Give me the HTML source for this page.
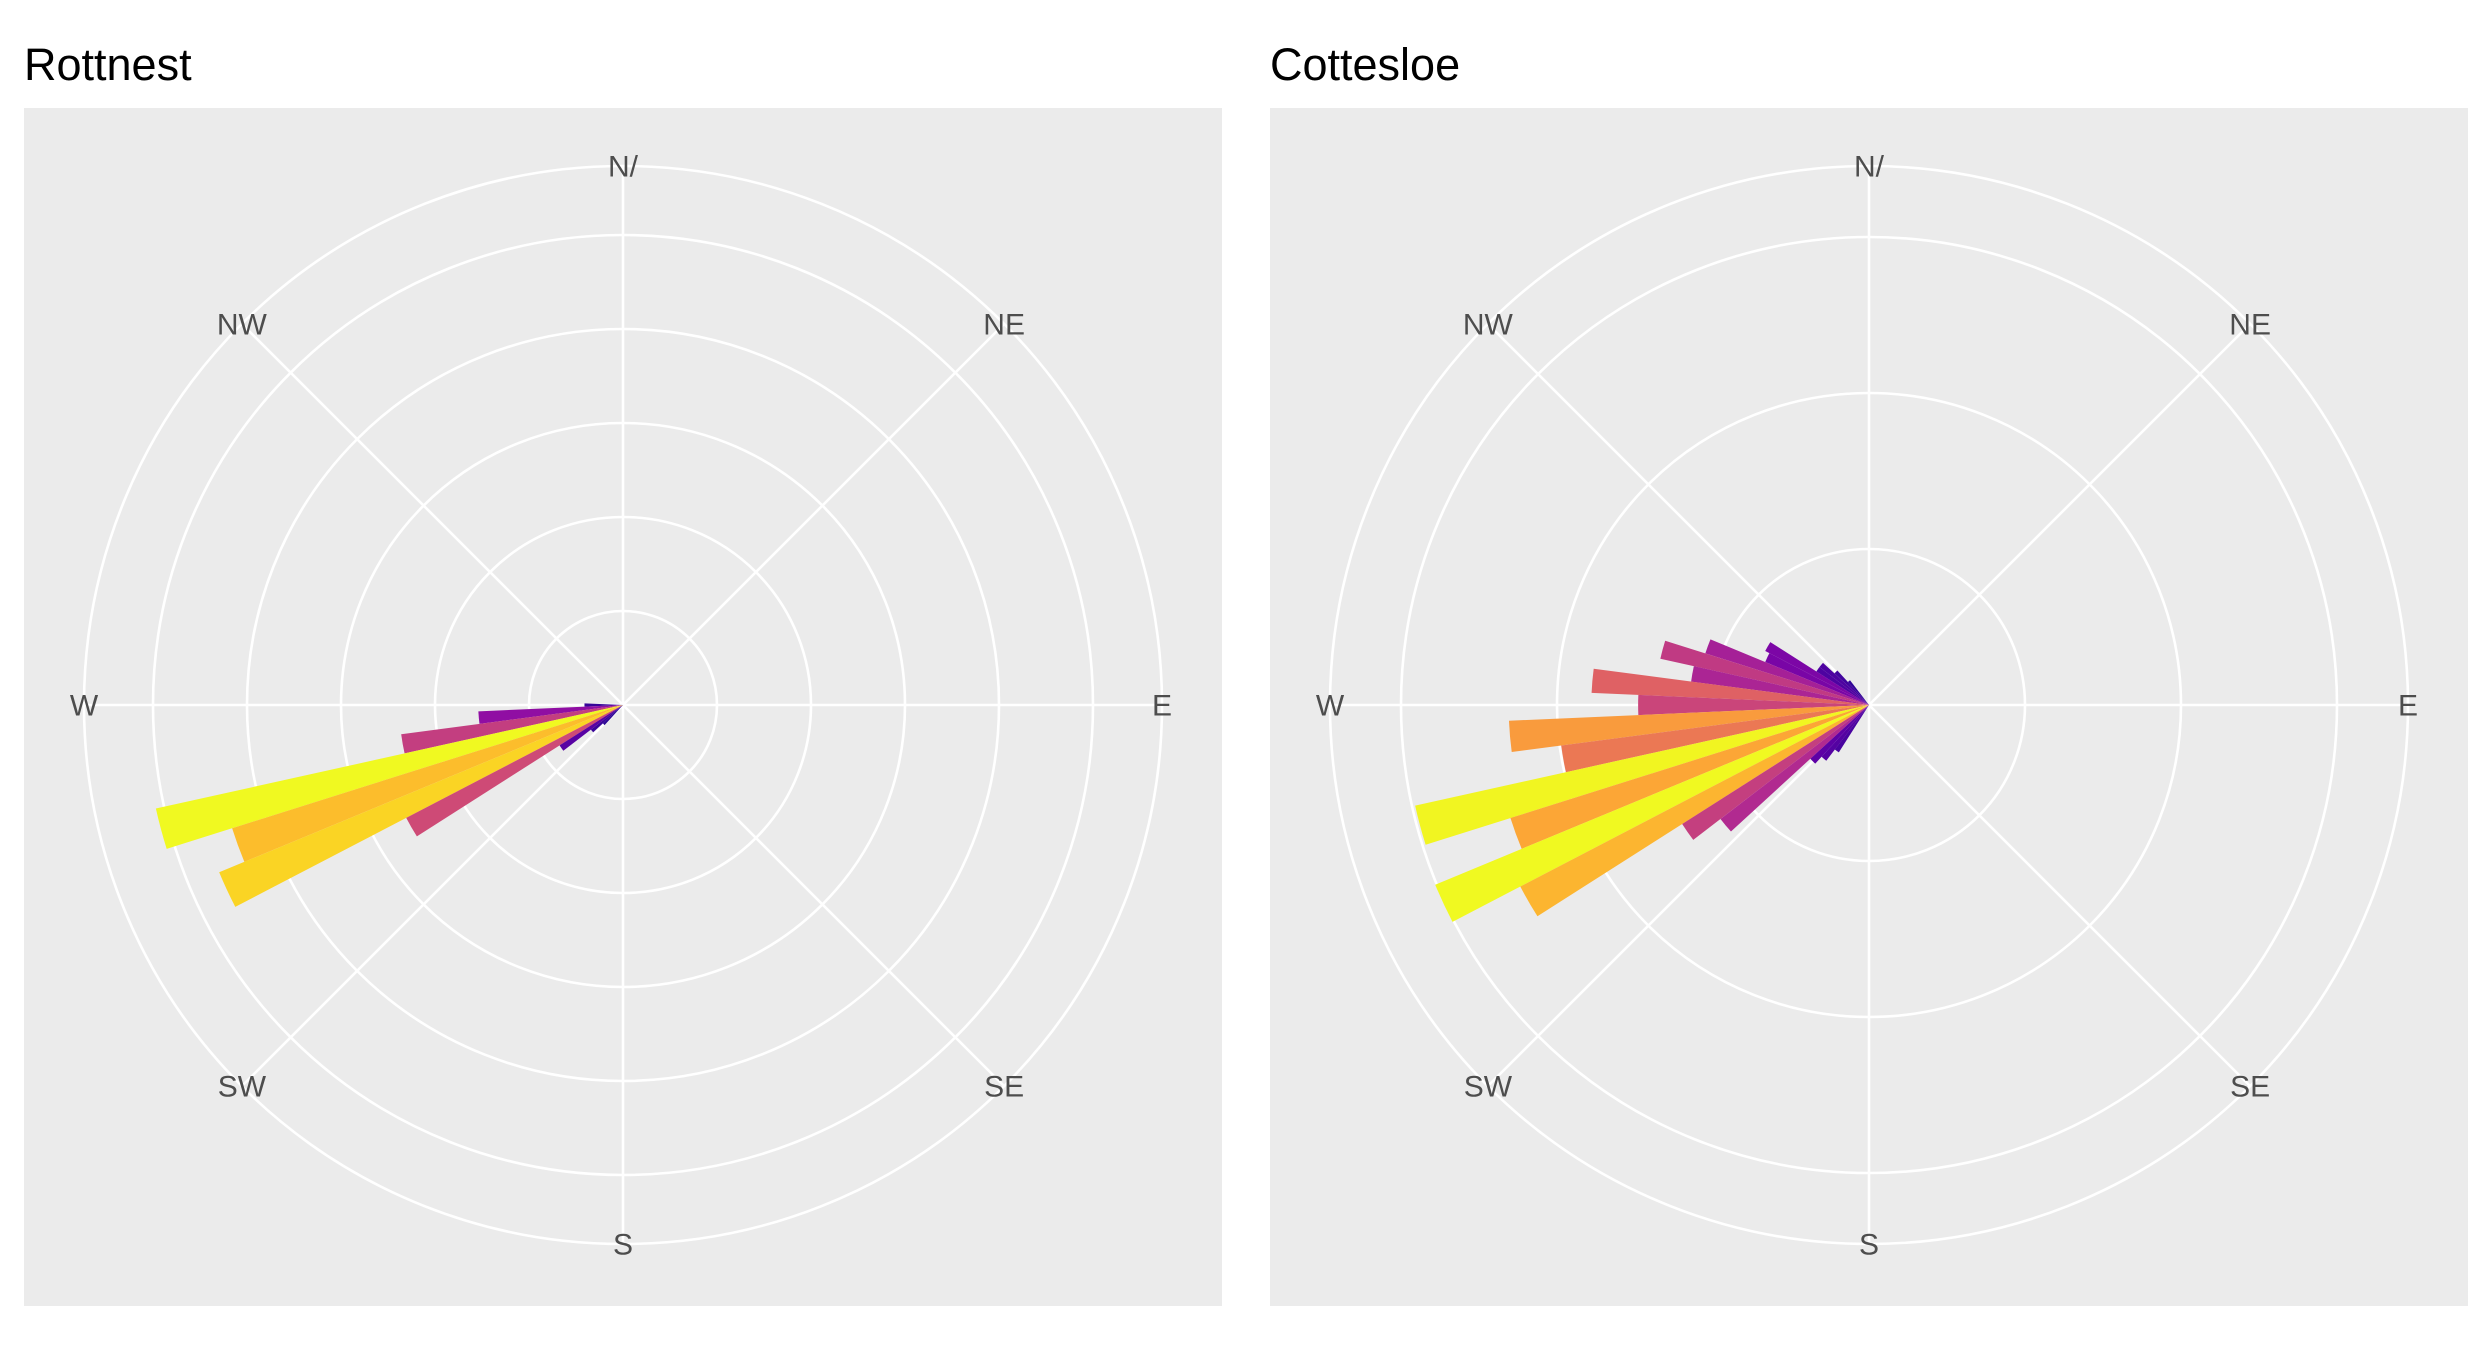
<!DOCTYPE html>
<html><head><meta charset="utf-8"><style>
html,body{margin:0;padding:0;background:#fff;}
svg{display:block;}
text{font-family:"Liberation Sans",Arial,sans-serif;}
</style></head><body>
<svg id="chart" width="2486" height="1352" viewBox="0 0 2486 1352"></svg>
<script>
// Rottnest data: direction bins (compass degrees) and frequency values
const rottDirs = [270, 265, 260, 255, 250, 245, 240, 235, 230, 225];
const rottVals = [0.41, 1.54, 2.38, 5.09, 4.36, 4.65, 2.6, 0.8, 0.43, 0.29];
const rottRings = [1, 2, 3, 4, 5];
// Cottesloe data
const cottDirs = [320, 315, 310, 305, 300, 295, 290, 285, 280, 275, 270, 265, 260, 255, 250, 245, 240, 235, 230, 225, 220, 215];
const cottVals = [0.2, 0.3, 0.4, 0.4, 0.75, 0.72, 1.1, 1.37, 1.15, 1.78, 1.48, 2.31, 1.99, 2.98, 2.41, 3.01, 2.52, 1.42, 1.2, 0.51, 0.45, 0.36];
const cottRings = [1, 2, 3];
const compassLabels = ["N/", "NE", "E", "SE", "S", "SW", "W", "NW"];
const compassAngles = [0, 45, 90, 135, 180, 225, 270, 315];

const NS = "http://www.w3.org/2000/svg";
const svg = document.getElementById("chart");
const plasmaStops = ["#0d0887","#41049d","#6a00a8","#8f0da4","#b12a90","#cc4778","#e16462","#f2844b","#fca636","#fcce25","#f0f921"];
function hex(c){return [parseInt(c.slice(1,3),16),parseInt(c.slice(3,5),16),parseInt(c.slice(5,7),16)];}
function plasma(t){
  t=Math.max(0,Math.min(1,t));
  const p=t*10, i=Math.min(9,Math.floor(p)), f=p-i;
  const a=hex(plasmaStops[i]), b=hex(plasmaStops[i+1]);
  return "rgb("+a.map((v,k)=>Math.round(v+(b[k]-v)*f)).join(",")+")";
}
function mk(tag, attrs, parent){
  const el=document.createElementNS(NS,tag);
  for(const k in attrs) el.setAttribute(k,attrs[k]);
  (parent||svg).appendChild(el);
  return el;
}
function pt(cx,cy,r,deg){const a=deg*Math.PI/180;return [cx+r*Math.sin(a), cy-r*Math.cos(a)];}

function panel(name, title, px, cx, cy, unit, dirs, vals, rings){
  const g=mk("g",{});
  
  
  const t=mk("text",{x:px,y:80,"font-size":45,fill:"#000"},g);
  t.textContent=title;
  
  
  const bg=mk("rect",{x:px,y:108,width:1198,height:1198,fill:"#ebebeb"},g);
  
  
  const outer=539;
  rings.forEach(v=>{
    const c=mk("circle",{cx:cx,cy:cy,r:v*unit,fill:"none",stroke:"#fff","stroke-width":2.6},g);
    
    
  });
  const oc=mk("circle",{cx:cx,cy:cy,r:outer,fill:"none",stroke:"#fff","stroke-width":2.6},g);
  
  
  compassAngles.forEach(a=>{
    const [x,y]=pt(cx,cy,outer,a);
    const l=mk("line",{x1:cx,y1:cy,x2:x,y2:y,stroke:"#fff","stroke-width":2.6},g);
    
    
  });
  const vmax=Math.max(...vals);
  dirs.forEach((d,i)=>{
    const r=vals[i]*unit;
    const [x1,y1]=pt(cx,cy,r,d-2.5), [x2,y2]=pt(cx,cy,r,d+2.5);
    const p=mk("path",{d:`M${cx},${cy}L${x1},${y1}A${r},${r} 0 0 1 ${x2},${y2}Z`,fill:plasma(vals[i]/vmax)},g);
    
    
  });
  compassAngles.forEach((a,i)=>{
    const [x,y]=pt(cx,cy,outer,a);
    const lt=mk("text",{x:x,y:y+1,"font-size":30,fill:"#4d4d4d","text-anchor":"middle","dominant-baseline":"central"},g);
    lt.textContent=compassLabels[i];
    
    
  });
}
panel("rottnest","Rottnest",24,623,705,94,rottDirs,rottVals,rottRings);
panel("cottesloe","Cottesloe",1270,1869,705,156,cottDirs,cottVals,cottRings);
</script>
</body></html>
